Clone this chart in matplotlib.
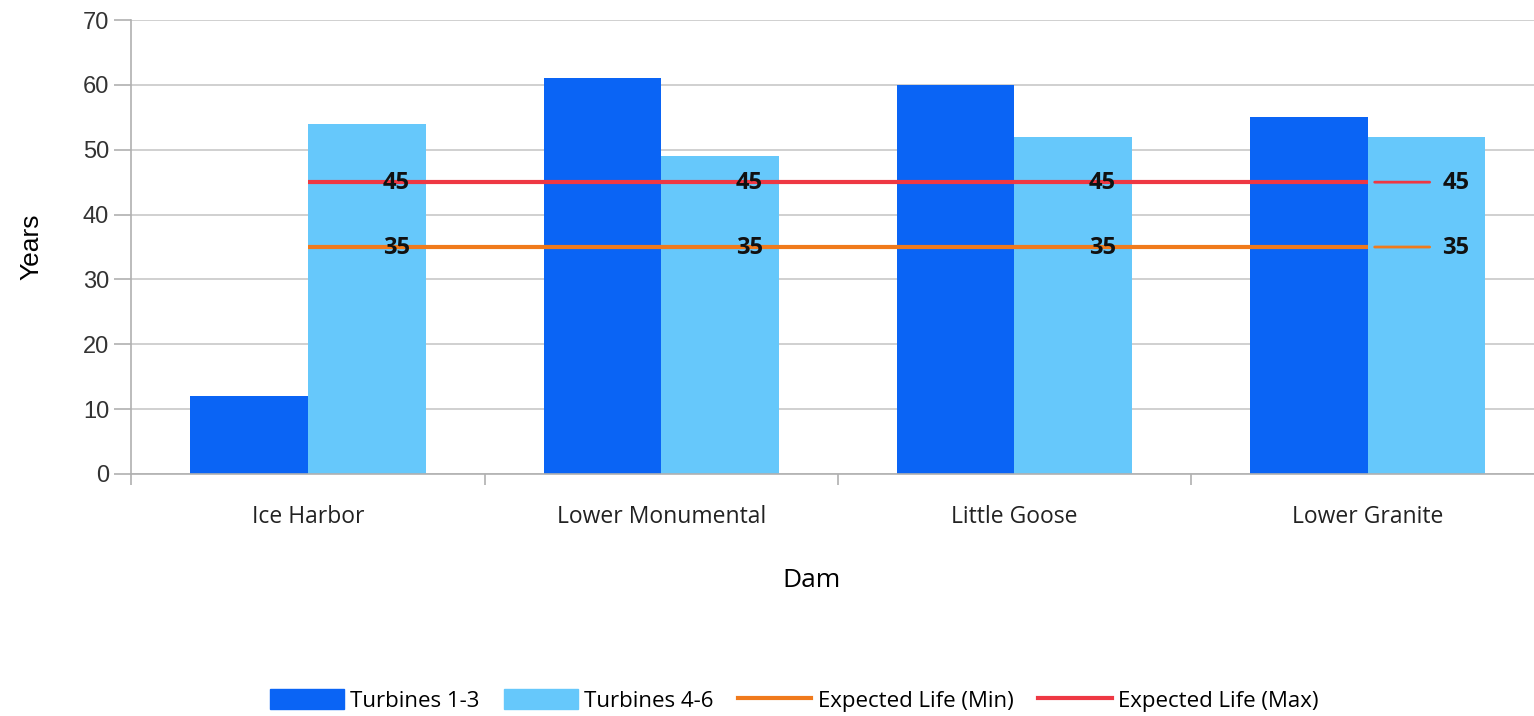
import matplotlib
matplotlib.use("Agg")
import matplotlib.pyplot as plt
import matplotlib.transforms as mtransforms
from matplotlib.patches import Patch
from matplotlib.lines import Line2D
import numpy as np

dams = ["Ice Harbor", "Lower Monumental", "Little Goose", "Lower Granite"]
turbines_1_3 = [12, 61, 60, 55]
turbines_4_6 = [54, 49, 52, 52]
life_min = [35, 35, 35, 35]
life_max = [45, 45, 45, 45]

c_dark = "#0a64f5"
c_light = "#66c8fb"
c_min = "#f07a1c"
c_max = "#ee3843"
label_font = ["Open Sans", "DejaVu Sans"]

fig = plt.figure(figsize=(15.34, 7.16), dpi=100)
ax = fig.add_axes([0.0857, 0.338, 0.921, 0.634])

x = np.arange(len(dams))
w = 1 / 3
ax.bar(x - w / 2, turbines_1_3, width=w, color=c_dark, zorder=2)
ax.bar(x + w / 2, turbines_4_6, width=w, color=c_light, zorder=2)

ax.plot(x, life_min, color=c_min, lw=3, zorder=3, solid_capstyle="butt")
ax.plot(x, life_max, color=c_max, lw=3, zorder=3, solid_capstyle="butt")

# value labels, each with a short key line between the point and the number
for series, col in ((life_min, c_min), (life_max, c_max)):
    for xi, v in zip(x, series):
        tr_a = mtransforms.offset_copy(ax.transData, fig=fig, x=7, y=0, units="dots")
        tr_b = mtransforms.offset_copy(ax.transData, fig=fig, x=62, y=0, units="dots")
        ax.annotate("", xy=(xi, v), xycoords=tr_b, xytext=(xi, v), textcoords=tr_a,
                    arrowprops=dict(arrowstyle="-", color=col, lw=2,
                                    shrinkA=0, shrinkB=0), zorder=3)
        ax.annotate(str(v), xy=(xi, v), xytext=(88, -1), textcoords="offset pixels",
                    ha="center", va="center", fontsize=17, fontweight="bold",
                    family=label_font, color="#111111", zorder=4)

ax.set_xlim(-0.5, len(dams) - 0.5)
ax.set_ylim(0, 70)
ax.set_yticks(range(0, 71, 10))
ax.set_yticklabels([str(v) for v in range(0, 71, 10)], family="Liberation Sans",
                   fontsize=17, color="#333333")
ax.set_xticks(x)
ax.set_xticklabels(dams, family=label_font, fontsize=16.5, color="#222222")
ax.set_xticks(np.arange(-0.5, len(dams), 1), minor=True)
ax.tick_params(axis="x", which="major", length=0, pad=22)
ax.tick_params(axis="x", which="minor", length=8, color="#b0b0b0", width=1.2)
ax.tick_params(axis="y", length=12, color="#b0b0b0", width=1.2, pad=4, direction="out")

ax.grid(axis="y", color="#c8c8c8", lw=1.2, zorder=0)
for side in ("top", "right"):
    ax.spines[side].set_visible(False)
for side in ("left", "bottom"):
    ax.spines[side].set_color("#b0b0b0")
    ax.spines[side].set_linewidth(1.2)

ax.set_ylabel("Years", family="Liberation Sans", fontsize=19, labelpad=28)
ax.set_xlabel("Dam", family=label_font, fontsize=19)
ax.xaxis.set_label_coords(0.4816, -0.206)

handles = [
    Patch(color=c_dark, label="Turbines 1-3"),
    Patch(color=c_light, label="Turbines 4-6"),
    Line2D([], [], color=c_min, lw=3, label="Expected Life (Min)"),
    Line2D([], [], color=c_max, lw=3, label="Expected Life (Max)"),
]
fig.legend(handles=handles, loc="center", bbox_to_anchor=(0.518, 0.022), ncol=4,
           frameon=False, prop={"family": label_font, "size": 16},
           handlelength=3.3, handleheight=1.0, handletextpad=0.3, columnspacing=1.1)

fig.savefig("out.png", dpi=100)
